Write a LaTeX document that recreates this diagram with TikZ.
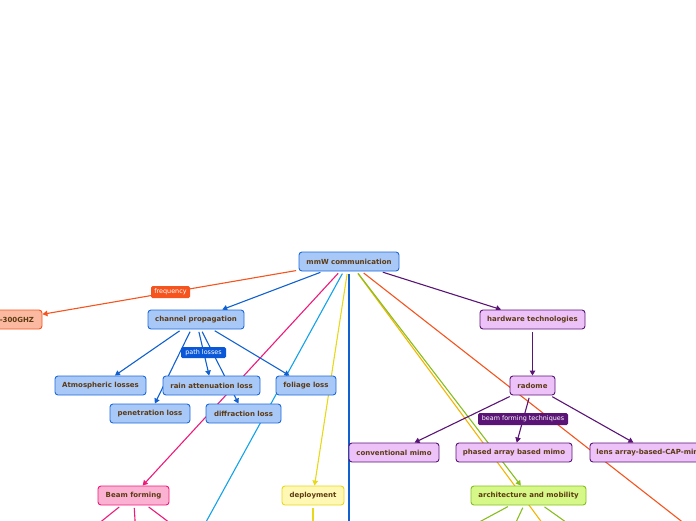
\documentclass[tikz,border=0pt]{standalone}
\usepackage{fontspec}
\setmainfont{DejaVu Sans}
\usetikzlibrary{arrows.meta}
\pgfdeclarelayer{background}
\pgfsetlayers{background,main}
\definecolor{tc}{HTML}{5C3A12}
\definecolor{bluefill}{HTML}{A8C8F8}
\definecolor{blueline}{HTML}{1E6AD8}
\definecolor{blueedge}{HTML}{1060D0}
\definecolor{bluelab}{HTML}{0A58D8}
\definecolor{orfill}{HTML}{FBB9A1}
\definecolor{orline}{HTML}{F5541E}
\definecolor{pufill}{HTML}{EDC2F8}
\definecolor{puline}{HTML}{5A1476}
\definecolor{pkfill}{HTML}{FBB2D2}
\definecolor{pkline}{HTML}{EE1A7A}
\definecolor{yefill}{HTML}{FFF8B4}
\definecolor{yeline}{HTML}{E8D81A}
\definecolor{grfill}{HTML}{D6F888}
\definecolor{grline}{HTML}{86BE1E}
\definecolor{cyline}{HTML}{12A2E8}
\definecolor{amline}{HTML}{F4B400}
\tikzset{
  box/.style={rounded corners=3pt, line width=0.9pt, minimum height=19pt, inner sep=0pt,
    font=\fontsize{7}{8}\selectfont\bfseries, text=tc},
  bluebox/.style={box, fill=bluefill, draw=blueline},
  orbox/.style={box, fill=orfill, draw=orline},
  pubox/.style={box, fill=pufill, draw=puline},
  pkbox/.style={box, fill=pkfill, draw=pkline},
  yebox/.style={box, fill=yefill, draw=yeline},
  grbox/.style={box, fill=grfill, draw=grline},
  lab/.style={rounded corners=1.5pt, inner sep=0pt, minimum height=12pt,
    font=\fontsize{6.4}{7}\selectfont, text=white},
  conn/.style={line width=1.1pt, shorten <=2.5pt, -{Triangle[length=5pt,width=5.5pt]}},
  plainconn/.style={line width=1.1pt, shorten <=2.5pt},
}
\begin{document}
\begin{tikzpicture}[x=1pt,y=-1pt]
\useasboundingbox (0,0) rectangle (696,520);
\clip (0,0) rectangle (696,520);
% nodes
\node[bluebox, minimum width=100pt] (mmw) at (349,261.5) {mmW communication};
\node[orbox, minimum width=60pt] (ghz) at (12,319.5) {30-300GHZ};
\node[bluebox, minimum width=96pt] (chan) at (196,319.5) {channel propagation};
\node[bluebox, minimum width=91pt] (atm) at (100.5,385.5) {Atmospheric losses};
\node[bluebox, minimum width=97pt] (rain) at (211.5,385.5) {rain attenuation loss};
\node[bluebox, minimum width=60pt] (fol) at (306,385.5) {foliage loss};
\node[bluebox, minimum width=80pt] (pen) at (150,413.5) {penetration loss};
\node[bluebox, minimum width=75pt] (dif) at (243.5,413.5) {diffraction loss};
\node[pubox, minimum width=105pt] (hw) at (532.5,319.5) {hardware technologies};
\node[pubox, minimum width=45pt] (rad) at (532.5,385.5) {radome};
\node[pubox, minimum width=90pt] (conv) at (394,452.5) {conventional mimo};
\node[pubox, minimum width=116pt] (phas) at (514,452.5) {phased array based mimo};
\node[pubox, minimum width=122pt] (lens) at (651,452.5) {lens array-based-CAP-mimo};
\node[pkbox, minimum width=71pt] (bf) at (133.5,495.5) {Beam forming};
\node[yebox, minimum width=62pt] (dep) at (313,495.5) {deployment};
\node[grbox, minimum width=115pt] (arch) at (528.5,495.5) {architecture and mobility};
% labels
\node[lab, fill=orline, minimum width=39pt] (lfreq) at (170.5,292) {frequency};
\node[lab, fill=bluelab, minimum width=45pt, minimum height=11pt] (lpath) at (203.5,352.5) {path losses};
\node[lab, fill=puline, minimum width=90pt] (lbft) at (523,419) {beam forming techniques};
% off-picture ends
\coordinate (cyend) at (184.3,561.5);
\coordinate (blend) at (349,600);
\coordinate (amend) at (570.7,561.5);
\coordinate (orend) at (733,561.5);
\coordinate (bf1) at (72.5,544.5);
\coordinate (bf2) at (136.5,544.5);
\coordinate (bf3) at (198.5,544.5);
\coordinate (dep1) at (313,545);
\coordinate (ar1) at (437.5,544.5);
\coordinate (ar2) at (505.5,544.5);
\coordinate (ar3) at (597.5,544.5);
\begin{pgfonlayer}{background}
\clip (0,0) rectangle (696,520);
\draw[conn, orline] (mmw) -- (ghz);
\draw[conn, blueedge] (mmw) -- (chan);
\draw[conn, puline] (mmw) -- (hw);
\draw[conn, pkline] (mmw) -- (bf);
\draw[plainconn, cyline] (mmw) -- (cyend);
\draw[conn, yeline] (mmw) -- (dep);
\draw[plainconn, blueedge] (mmw) -- (blend);
\draw[plainconn, amline] (mmw) -- (amend);
\draw[conn, grline] (mmw) -- (arch);
\draw[plainconn, orline] (mmw) -- (orend);
\draw[conn, blueedge] (chan) -- (atm);
\draw[conn, blueedge] (chan) -- (pen);
\draw[conn, blueedge] (chan) -- (rain);
\draw[conn, blueedge] (chan) -- (dif);
\draw[conn, blueedge] (chan) -- (fol);
\draw[conn, puline] (hw) -- (rad);
\draw[conn, puline] (rad) -- (conv);
\draw[conn, puline] (rad) -- (phas);
\draw[conn, puline] (rad) -- (lens);
\draw[plainconn, pkline] (bf) -- (bf1);
\draw[plainconn, pkline] (bf) -- (bf2);
\draw[plainconn, pkline] (bf) -- (bf3);
\draw[plainconn, yeline] (dep) -- (dep1);
\draw[plainconn, grline] (arch) -- (ar1);
\draw[plainconn, grline] (arch) -- (ar2);
\draw[plainconn, grline] (arch) -- (ar3);
\end{pgfonlayer}
\end{tikzpicture}
\end{document}
